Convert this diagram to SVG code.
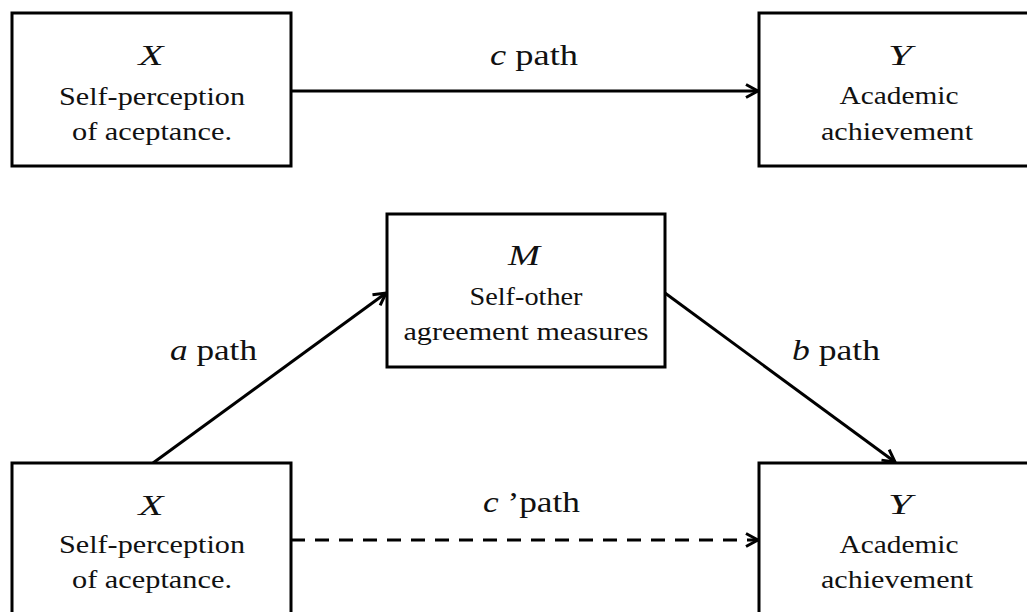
<svg xmlns="http://www.w3.org/2000/svg" width="1027" height="612" viewBox="0 0 1027 612" font-family="Liberation Serif, Times New Roman, serif">
<style>
.box{fill:#fff;stroke:#000;stroke-width:3}
.t{font-size:26px;text-anchor:middle;fill:#111}
.v{font-size:29px;font-style:italic;text-anchor:middle;fill:#111}
.lab{font-size:29px;fill:#111}
.i{font-style:italic}
.edge{stroke:#000;stroke-width:3;fill:none}
.dash{stroke-dasharray:14 10}
</style>
<defs>
<marker id="arr" markerUnits="userSpaceOnUse" markerWidth="18" markerHeight="18" viewBox="0 0 18 18" refX="15" refY="9" orient="auto">
<path d="M3,2.5 L15,9 L3,15.5" fill="none" stroke="#000" stroke-width="3" stroke-dasharray="none"/>
</marker>
</defs>
<rect width="1027" height="612" fill="#fff"/>
<g id="connectors">
<line class="edge" x1="291" y1="91" x2="758" y2="91" marker-end="url(#arr)"/>
<line class="edge" x1="153" y1="463" x2="386" y2="293" marker-end="url(#arr)"/>
<line class="edge" x1="665" y1="293" x2="895" y2="462" marker-end="url(#arr)"/>
<line class="edge dash" x1="291" y1="540" x2="758" y2="540" marker-end="url(#arr)"/>
<text class="lab" font-family="Liberation Serif" x="490" y="65" textLength="88" lengthAdjust="spacingAndGlyphs"><tspan class="i">c</tspan> path</text>
<text class="lab" font-family="Liberation Serif" x="170" y="360" textLength="87" lengthAdjust="spacingAndGlyphs"><tspan class="i">a</tspan> path</text>
<text class="lab" font-family="Liberation Serif" x="792" y="360" textLength="88" lengthAdjust="spacingAndGlyphs"><tspan class="i">b</tspan> path</text>
<text class="lab" font-family="Liberation Serif" x="483" y="512" textLength="97" lengthAdjust="spacingAndGlyphs"><tspan class="i">c</tspan> ’path</text>
</g>
<g id="node-x-top" font-family="Liberation Serif">
<rect class="box" x="12" y="13" width="279" height="153"/>
<text class="v" x="151" y="65" textLength="25" lengthAdjust="spacingAndGlyphs">X</text>
<text class="t" x="152" y="105" textLength="186" lengthAdjust="spacingAndGlyphs">Self-perception</text>
<text class="t" x="152" y="140" textLength="160" lengthAdjust="spacingAndGlyphs">of aceptance.</text>
</g>
<g id="node-y-top" font-family="Liberation Serif">
<rect class="box" x="759" y="13" width="278" height="153"/>
<text class="v" x="900" y="65" textLength="24" lengthAdjust="spacingAndGlyphs">Y</text>
<text class="t" x="899" y="104" textLength="119" lengthAdjust="spacingAndGlyphs">Academic</text>
<text class="t" x="897" y="140" textLength="152" lengthAdjust="spacingAndGlyphs">achievement</text>
</g>
<g id="node-m" font-family="Liberation Serif">
<rect class="box" x="387" y="214" width="278" height="153"/>
<text class="v" x="524" y="265" textLength="32" lengthAdjust="spacingAndGlyphs">M</text>
<text class="t" x="526" y="305" textLength="113" lengthAdjust="spacingAndGlyphs">Self-other</text>
<text class="t" x="526" y="340" textLength="245" lengthAdjust="spacingAndGlyphs">agreement measures</text>
</g>
<g id="node-x-bottom" font-family="Liberation Serif">
<rect class="box" x="12" y="463" width="279" height="165"/>
<text class="v" x="151" y="515" textLength="25" lengthAdjust="spacingAndGlyphs">X</text>
<text class="t" x="152" y="553" textLength="186" lengthAdjust="spacingAndGlyphs">Self-perception</text>
<text class="t" x="152" y="588" textLength="160" lengthAdjust="spacingAndGlyphs">of aceptance.</text>
</g>
<g id="node-y-bottom" font-family="Liberation Serif">
<rect class="box" x="759" y="463" width="278" height="165"/>
<text class="v" x="900" y="514" textLength="24" lengthAdjust="spacingAndGlyphs">Y</text>
<text class="t" x="899" y="553" textLength="119" lengthAdjust="spacingAndGlyphs">Academic</text>
<text class="t" x="897" y="588" textLength="152" lengthAdjust="spacingAndGlyphs">achievement</text>
</g>
</svg>
